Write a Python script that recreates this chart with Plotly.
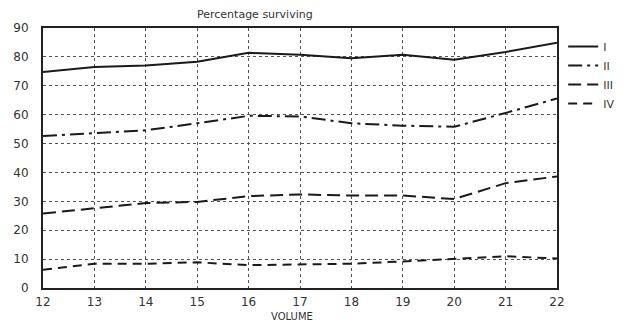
import plotly.graph_objects as go

volume = [12, 13, 14, 15, 16, 17, 18, 19, 20, 21, 22]
series_I = [74.8, 76.5, 77.0, 78.3, 81.4, 80.7, 79.5, 80.7, 79.0, 81.7, 84.9]
series_II = [52.6, 53.7, 54.6, 57.0, 59.6, 59.4, 57.0, 56.2, 55.8, 60.6, 65.6]
series_III = [25.8, 27.6, 29.4, 29.8, 31.8, 32.4, 32.0, 32.0, 30.8, 36.3, 38.6]
series_IV = [6.3, 8.4, 8.4, 8.9, 7.9, 8.2, 8.4, 9.2, 10.0, 11.0, 10.2]
names = ["I", "II", "III", "IV"]
y_ticks = [0, 10, 20, 30, 40, 50, 60, 70, 80, 90]

dashes = ["solid", "14px,5px,3px,5px", "13px,6px", "9px,6px"]
widths = [2, 2, 2, 2]

fig = go.Figure()
for name, vals, d, w in zip(names, [series_I, series_II, series_III, series_IV], dashes, widths):
    fig.add_trace(go.Scatter(x=volume, y=vals, mode="lines", name=name,
                             line=dict(color="#1a1a1a", width=w, dash=d)))

font = dict(family="DejaVu Sans, Arial, sans-serif", size=12, color="#333")
pw = 632 - 43 - 64
ph = 324 - 28 - 36
fig.update_layout(
    width=632, height=324,
    margin=dict(l=43, r=64, t=28, b=36),
    paper_bgcolor="white", plot_bgcolor="white",
    font=font,
    showlegend=True,
    legend=dict(x=1.012, xanchor="left", y=0.985, yanchor="top",
                font=dict(family="DejaVu Sans, Arial, sans-serif", size=11, color="#333"),
                itemwidth=30, tracegroupgap=0, bgcolor="rgba(0,0,0,0)"),
    annotations=[
        dict(text="Percentage surviving", x=(260 - 43) / pw, xref="paper",
             y=(288 - 15) / ph, yref="paper",
             showarrow=False, font=dict(size=11, color="#333"),
             xanchor="center", yanchor="middle"),
        dict(text="VOLUME", x=(297 - 43) / pw, xref="paper",
             y=(288 - 316) / ph, yref="paper", showarrow=False,
             font=dict(size=10, color="#333"), xanchor="center", yanchor="middle"),
    ],
)

fig.update_xaxes(range=[12, 22], tickvals=volume, ticktext=[str(v) for v in volume],
                 showgrid=True, gridcolor="#555", griddash="dot", gridwidth=1,
                 showline=True, linecolor="#222", linewidth=2, mirror=True,
                 ticks="", zeroline=False, tickfont=font, ticklabelstandoff=2)
fig.update_yaxes(range=[0, 90], tickvals=y_ticks,
                 showgrid=True, gridcolor="#555", griddash="dot", gridwidth=1,
                 showline=True, linecolor="#222", linewidth=2, mirror=True,
                 ticks="", zeroline=False, tickfont=font, ticklabelstandoff=10)

fig.write_html("out.html", config={"displayModeBar": False},
               post_script="document.body.style.margin='0';document.body.style.overflow='hidden';")
